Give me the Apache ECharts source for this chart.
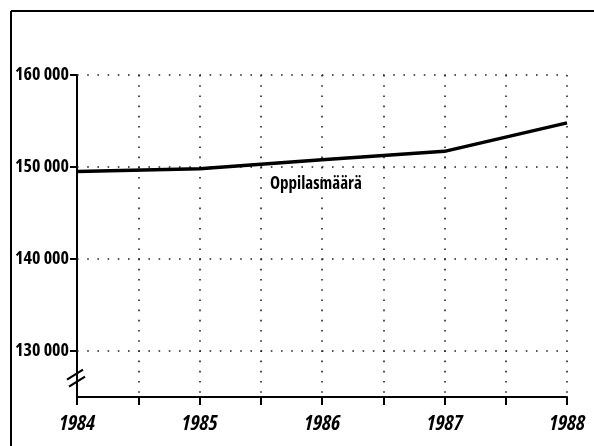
<!DOCTYPE html>
<html><head><meta charset="utf-8">
<script src="https://cdn.jsdelivr.net/npm/echarts@6/dist/echarts.min.js"></script>
<style>html,body{margin:0;padding:0;background:#fff}#c{width:594px;height:446px}</style>
</head><body><div id="c"></div>
<script>
var years = [1984, 1985, 1986, 1987, 1988];
var pupils = [149500, 149800, 150800, 151700, 154800];
var yTicks = [130000, 140000, 150000, 160000];
var seriesName = 'Oppilasmäärä';
var labelPos = [1985.95, 148150];
var breakAt = 127000;

var font = '"Open Sans", "DejaVu Sans Condensed", sans-serif';
var chart = echarts.init(document.getElementById('c'));
function fmt(v){ var s = String(v); return s.slice(0, s.length-3) + ' ' + s.slice(-3); }
var dotted = {color:'#222', width:1.6, type:[1.6, 8.6]};
chart.setOption({
  animation:false,
  grid:{left:77, right:27, top:75, bottom:49},
  xAxis:{type:'value', min:1984, max:1988, interval:0.5,
    axisLine:{lineStyle:{color:'#000', width:2}},
    axisTick:{length:8, lineStyle:{color:'#000', width:2}},
    axisLabel:{margin:17, color:'#000', fontFamily:font, fontWeight:'bold', fontStyle:'italic condensed', fontSize:21,
      formatter:function(v){ return (Math.abs(v - Math.round(v)) < 1e-6) ? String(Math.round(v)) : ''; }},
    splitLine:{show:true, lineStyle:dotted}
  },
  yAxis:{type:'value', min:125000, max:160000,
    axisLine:{show:true, lineStyle:{color:'#000', width:2}},
    axisTick:{show:false},
    axisLabel:{margin:8, color:'#000', fontFamily:font, fontWeight:'bold', fontStyle:'condensed', fontSize:18, customValues:yTicks, formatter:fmt},
    splitLine:{show:false}
  },
  series:[{
    type:'line', name:seriesName, data:years.map(function(y,i){return [y, pupils[i]];}),
    symbol:'none', lineStyle:{color:'#000', width:3.5}, z:5,
    markLine:{silent:true, symbol:'none', label:{show:false}, lineStyle:dotted,
      data:yTicks.map(function(v){return {yAxis:v};})},
    markPoint:{symbol:'circle', symbolSize:0, silent:true,
      label:{show:true, position:'inside', formatter:seriesName, color:'#000', fontFamily:font, fontWeight:'bold', fontStyle:'condensed', fontSize:17},
      data:[{coord:labelPos}]}
  }]
});
var p = chart.convertToPixel({xAxisIndex:0, yAxisIndex:0}, [1984, breakAt]);
var g = [
  {type:'line', shape:{x1:11, y1:11, x2:594, y2:11}, style:{stroke:'#000', lineWidth:2}},
  {type:'line', shape:{x1:11, y1:11, x2:11, y2:446}, style:{stroke:'#000', lineWidth:2}},
  {type:'line', shape:{x1:p[0]-10, y1:p[1]+1, x2:p[0]+6, y2:p[1]-9}, style:{stroke:'#000', lineWidth:2.2}},
  {type:'line', shape:{x1:p[0]-8, y1:p[1]+8, x2:p[0]+8, y2:p[1]-2}, style:{stroke:'#000', lineWidth:2.2}}
];
yTicks.forEach(function(v){
  var q = chart.convertToPixel({xAxisIndex:0, yAxisIndex:0}, [1984, v]);
  g.push({type:'line', shape:{x1:q[0]-7, y1:q[1], x2:q[0], y2:q[1]}, style:{stroke:'#000', lineWidth:2}});
});
chart.setOption({graphic:g});
</script></body></html>
